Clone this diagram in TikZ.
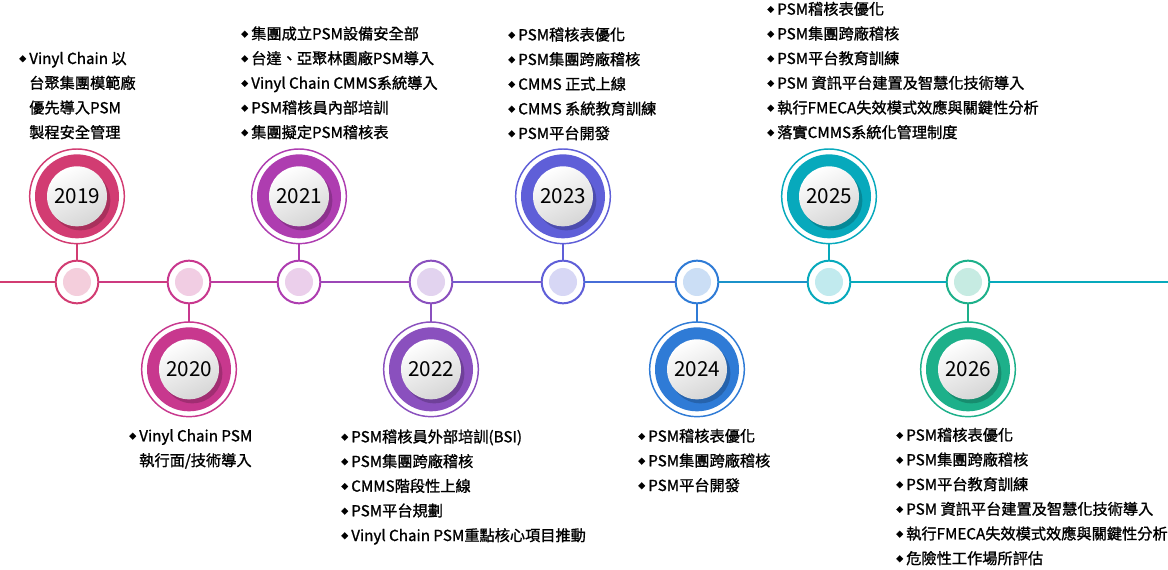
\documentclass[tikz,border=0pt]{standalone}
\usepackage{fontspec}
\setmainfont{Noto Sans CJK TC}[FakeBold=1.2]
\newfontfamily\yrfont{Noto Sans CJK TC}
\usetikzlibrary{positioning}

\definecolor{c19}{HTML}{D23C72}
\definecolor{c20}{HTML}{C8388E}
\definecolor{c21}{HTML}{AE3DB0}
\definecolor{c22}{HTML}{8A50BE}
\definecolor{c23}{HTML}{5F5FD8}
\definecolor{c24}{HTML}{2F7BD6}
\definecolor{c25}{HTML}{07A9BC}
\definecolor{c26}{HTML}{1DB08A}

\newcommand{\itm}{\makebox[7.5pt][l]{\raisebox{1.9pt}{\fontsize{5.2}{5}\selectfont ◆}}}
\newcommand{\gap}{\hspace*{7.5pt}}

\begin{document}
\begin{tikzpicture}[x=0.75pt,y=-0.75pt,
    dot/.style={circle, draw=#1, line width=1.5pt, fill=white, minimum size=32pt,
      inner sep=0pt, outer sep=0pt,
      path picture={\fill[#1!25] (path picture bounding box.center) circle (10.5pt);}},
    yr/.style={circle, draw=#1, line width=1.1pt, fill=white, minimum size=71pt,
      inner sep=0pt, outer sep=0pt, font=\yrfont\fontsize{15.5}{16}\selectfont,
      path picture={
        \fill[#1] (path picture bounding box.center) circle (31.5pt);
        \fill[#1!65!black, opacity=.55] ([shift={(2.5pt,-3pt)}]path picture bounding box.center) circle (22.5pt);
        \shade[top color=white, bottom color=black!16, shading angle=25] (path picture bounding box.center) circle (22.5pt);
      }},
    cn/.style={draw=#1, line width=1.1pt},
    tl/.style={draw=#1, line width=1.5pt},
    txt/.style={anchor=base west, align=left, inner sep=0pt,
      font=\fontsize{11.4}{18.5}\selectfont}]
  \useasboundingbox (0,0) rectangle (1168,570);

  % timeline
  \coordinate (lft) at (0,282);
  \coordinate (rgt) at (1168,282);
  \node[dot=c19] (dot19) at (77,282) {};
  \node[dot=c20] (dot20) at (189,282) {};
  \node[dot=c21] (dot21) at (299,282) {};
  \node[dot=c22] (dot22) at (431,282) {};
  \node[dot=c23] (dot23) at (563,282) {};
  \node[dot=c24] (dot24) at (697,282) {};
  \node[dot=c25] (dot25) at (829,282) {};
  \node[dot=c26] (dot26) at (968,282) {};

  \draw[tl=c19] (lft) -- (dot19);
  \draw[tl=c19!50!c20] (dot19) -- (dot20);
  \draw[tl=c20!50!c21] (dot20) -- (dot21);
  \draw[tl=c21!50!c22] (dot21) -- (dot22);
  \draw[tl=c22!50!c23] (dot22) -- (dot23);
  \draw[tl=c23!50!c24] (dot23) -- (dot24);
  \draw[tl=c24!50!c25] (dot24) -- (dot25);
  \draw[tl=c25] (dot25) -- (dot26);
  \draw[tl=c25] (dot26) -- (rgt);

  % years
  \node[yr=c19, above=12.75pt of dot19] (yr19) {2019};
  \node[yr=c20, below=14pt of dot20] (yr20) {2020};
  \node[yr=c21, above=12.75pt of dot21] (yr21) {2021};
  \node[yr=c22, below=14pt of dot22] (yr22) {2022};
  \node[yr=c23, above=12.75pt of dot23] (yr23) {2023};
  \node[yr=c24, below=14pt of dot24] (yr24) {2024};
  \node[yr=c25, above=12.75pt of dot25] (yr25) {2025};
  \node[yr=c26, below=14pt of dot26] (yr26) {2026};

  \draw[cn=c19] (dot19) -- (yr19);
  \draw[cn=c20] (dot20) -- (yr20);
  \draw[cn=c21] (dot21) -- (yr21);
  \draw[cn=c22] (dot22) -- (yr22);
  \draw[cn=c23] (dot23) -- (yr23);
  \draw[cn=c24] (dot24) -- (yr24);
  \draw[cn=c25] (dot25) -- (yr25);
  \draw[cn=c26] (dot26) -- (yr26);

  % notes (anchored at the last line)
  \node[txt] (txt19) at (19,138) {\itm Vinyl Chain 以\\ \gap 台聚集團模範廠\\ \gap 優先導入PSM\\ \gap 製程安全管理};
  \node[txt] (txt20) at (129,466) {\itm Vinyl Chain PSM\\ \gap 執行面/技術導入};
  \node[txt] (txt21) at (241,138) {\itm 集團成立PSM設備安全部\\ \itm 台達、亞聚林園廠PSM導入\\
    \itm Vinyl Chain CMMS系統導入\\ \itm PSM稽核員內部培訓\\ \itm 集團擬定PSM稽核表};
  \node[txt] (txt22) at (341,541) {\itm PSM稽核員外部培訓(BSI)\\ \itm PSM集團跨廠稽核\\
    \itm CMMS階段性上線\\ \itm PSM平台規劃\\ \itm Vinyl Chain PSM重點核心項目推動};
  \node[txt] (txt23) at (508,139) {\itm PSM稽核表優化\\ \itm PSM集團跨廠稽核\\
    \itm CMMS 正式上線\\ \itm CMMS 系統教育訓練\\ \itm PSM平台開發};
  \node[txt] (txt24) at (638,491) {\itm PSM稽核表優化\\ \itm PSM集團跨廠稽核\\ \itm PSM平台開發};
  \node[txt] (txt25) at (767,138) {\itm PSM稽核表優化\\ \itm PSM集團跨廠稽核\\ \itm PSM平台教育訓練\\
    \itm PSM 資訊平台建置及智慧化技術導入\\ \itm 執行FMECA失效模式效應與關鍵性分析\\ \itm 落實CMMS系統化管理制度};
  \node[txt] (txt26) at (896,564) {\itm PSM稽核表優化\\ \itm PSM集團跨廠稽核\\ \itm PSM平台教育訓練\\
    \itm PSM 資訊平台建置及智慧化技術導入\\ \itm 執行FMECA失效模式效應與關鍵性分析\\ \itm 危險性工作場所評估};
\end{tikzpicture}
\end{document}
